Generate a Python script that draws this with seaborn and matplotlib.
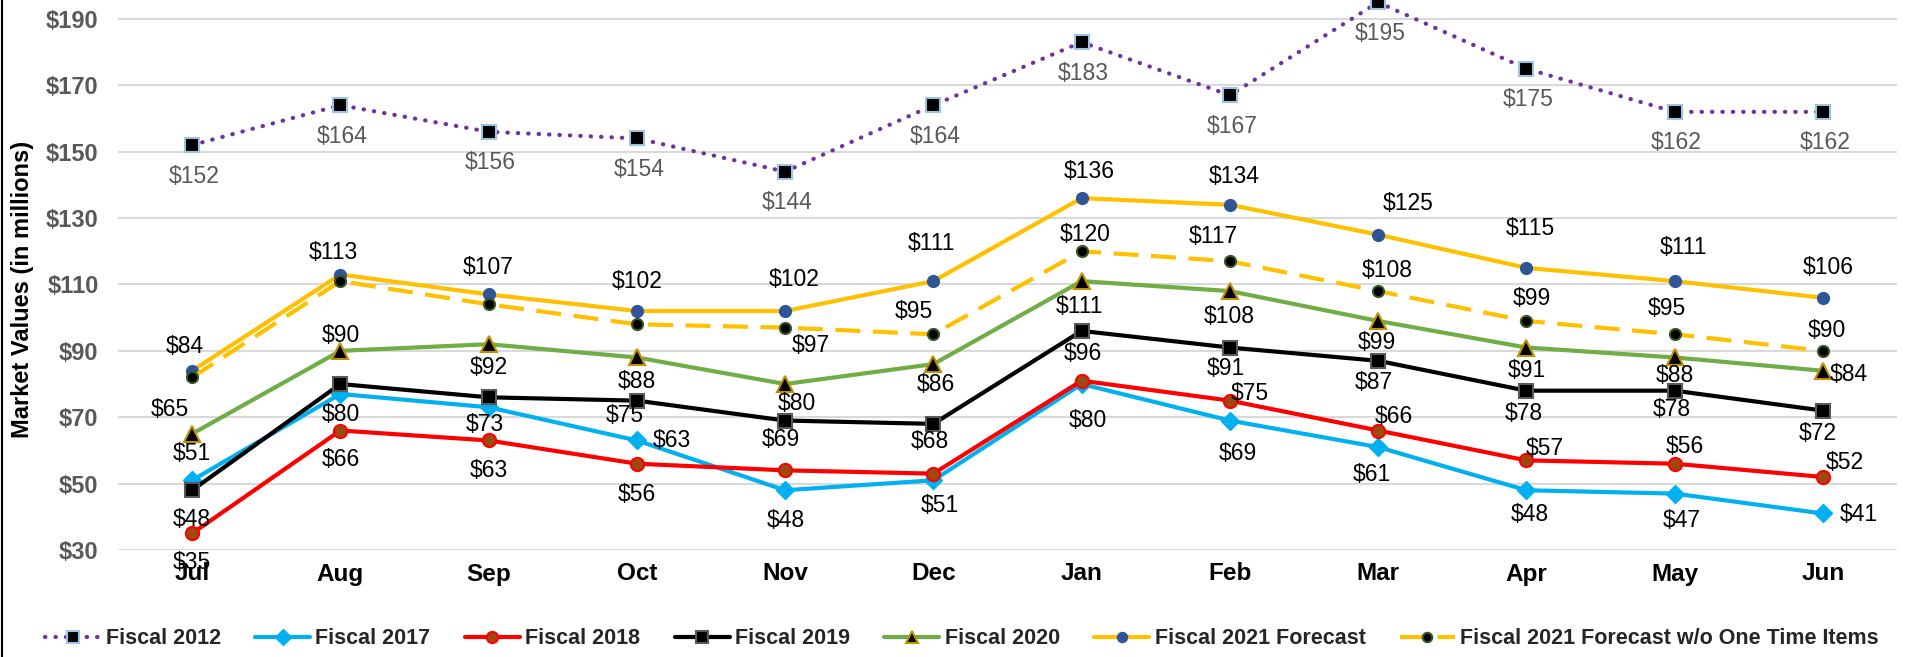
import numpy as np
import pandas as pd
import matplotlib
matplotlib.use("Agg")
import matplotlib.pyplot as plt
from matplotlib.lines import Line2D
import seaborn as sns

# ---------------- data ----------------
months = ["Jul", "Aug", "Sep", "Oct", "Nov", "Dec", "Jan", "Feb", "Mar", "Apr", "May", "Jun"]
fy2012 = [152, 164, 156, 154, 144, 164, 183, 167, 195, 175, 162, 162]
fy2017 = [51, 77, 73, 63, 48, 51, 80, 69, 61, 48, 47, 41]
fy2018 = [35, 66, 63, 56, 54, 53, 81, 75, 66, 57, 56, 52]
fy2019 = [48, 80, 76, 75, 69, 68, 96, 91, 87, 78, 78, 72]
fy2020 = [65, 90, 92, 88, 80, 86, 111, 108, 99, 91, 88, 84]
fy2021_fc = [84, 113, 107, 102, 102, 111, 136, 134, 125, 115, 111, 106]
fy2021_wo = [82, 111, 104, 98, 97, 95, 120, 117, 108, 99, 95, 90]
series_names = ["Fiscal 2012", "Fiscal 2017", "Fiscal 2018", "Fiscal 2019",
                "Fiscal 2020", "Fiscal 2021 Forecast",
                "Fiscal 2021 Forecast w/o One Time Items"]
y_ticks = [30, 50, 70, 90, 110, 130, 150, 170, 190]
y_label = "Market Values (in millions)"

# ---------------- styles ----------------
styles = {
    "Fiscal 2012": dict(color="#7030A0", ls=(0, (0.1, 2.4)), marker="s", ms=10,
                        mfc="black", mec="#9DC3E6", mew=1.5),
    "Fiscal 2017": dict(color="#00B0F0", ls="-", marker="D", ms=9.5,
                        mfc="#00B0F0", mec="#00B0F0", mew=1),
    "Fiscal 2018": dict(color="#FF0000", ls="-", marker="o", ms=9.5,
                        mfc="#9C4A0F", mec="#FF0000", mew=1.5),
    "Fiscal 2019": dict(color="black", ls="-", marker="s", ms=9.5,
                        mfc="black", mec="#595959", mew=1.5),
    "Fiscal 2020": dict(color="#70AD47", ls="-", marker="^", ms=11,
                        mfc="black", mec="#BF9000", mew=1.5),
    "Fiscal 2021 Forecast": dict(color="#FFC000", ls="-", marker="o", ms=8.5,
                                 mfc="#2F5597", mec="#2F5597", mew=1),
    "Fiscal 2021 Forecast w/o One Time Items": dict(color="#FFC000", ls=(0, (6, 3)),
                                                    marker="o", ms=8,
                                                    mfc="black", mec="#375623", mew=1.5),
}

# label offsets in pixels (dx, dy up-positive, align) ; None = no label
C, R = "c", "r"
offsets = {
    "Fiscal 2012": [(2, -31, C)] * 12,
    "Fiscal 2017": [(0, 27, C), None, (-4, -17, C), (16, 0, R), (1, -30, C), (6, -25, C),
                    (6, -36, C), (8, -33, C), (-6, -27, C), (3, -24, C), (7, -27, C), (17, -1, R)],
    "Fiscal 2018": [(0, -29, C), (0, -29, C), (0, -30, C), (0, -31, C), None, None,
                    None, (20, 7, C), (16, 14, C), (18, 12, C), (10, 17, C), (22, 14, C)],
    "Fiscal 2019": [(0, -29, C), (0, -30, C), None, (-12, -15, C), (-4, -19, C), (-4, -18, C),
                    (1, -23, C), (-4, -21, C), (-4, -22, C), (-3, -23, C), (-3, -19, C), (-5, -23, C)],
    "Fiscal 2020": [(-22, 24, C), (0, 15, C), (0, -23, C), (0, -24, C), (12, -19, C), (2, -20, C),
                    (-2, -25, C), (-1, -25, C), (-1, -22, C), (0, -23, C), (0, -18, C), (7, -4, R)],
    "Fiscal 2021 Forecast": [(-7, 24, C), (-7, 22, C), (0, 27, C), (0, 30, C), (9, 32, C), (-2, 38, C),
                             (8, 27, C), (4, 28, C), (30, 31, C), (4, 39, C), (9, 34, C), (5, 30, C)],
    "Fiscal 2021 Forecast w/o One Time Items": [None, None, None, None, (26, -18, C), (-20, 23, C),
                                                (4, 17, C), (-17, 25, C), (9, 21, C), (5, 22, C),
                                                (-8, 26, C), (4, 20, C)],
}

# ---------------- theme ----------------
sns.set_theme(style="white")
plt.rcParams["font.family"] = ["Liberation Sans", "DejaVu Sans"]

W, H, DPI = 1912, 657, 100
fig = plt.figure(figsize=(W / DPI, H / DPI), dpi=DPI)
ax = fig.add_axes([118 / W, 1 - 550 / H, (1897 - 118) / W, 550 / H])

x = np.arange(len(months))
all_values = [fy2012, fy2017, fy2018, fy2019, fy2020, fy2021_fc, fy2021_wo]

for name, vals in zip(series_names, all_values):
    st = styles[name]
    sns.lineplot(x=x, y=vals, ax=ax, color=st["color"], linestyle=st["ls"], linewidth=3,
                 marker=st["marker"], markersize=st["ms"], markerfacecolor=st["mfc"],
                 markeredgecolor=st["mec"], markeredgewidth=st["mew"],
                 dash_capstyle="round" if name == "Fiscal 2012" else "butt",
                 legend=False, clip_on=False, zorder=3)

# data labels
for name, vals in zip(series_names, all_values):
    color = "#595959" if name == "Fiscal 2012" else "black"
    for i, v in enumerate(vals):
        off = offsets[name][i]
        if off is None:
            continue
        dx, dy, al = off
        ax.annotate(f"${v}", xy=(x[i], v), xytext=(dx, dy), textcoords="offset pixels",
                    ha="left" if al == R else "center", va="center",
                    fontsize=16.5, color=color, zorder=5, annotation_clip=False)

ax.set_xlim(-0.5, len(months) - 0.5)
ax.set_ylim(30, 195.7)
ax.set_yticks(y_ticks)
ax.set_yticklabels([f"${t}" for t in y_ticks])
ax.set_xticks(x)
ax.set_xticklabels(months)
ax.set_xlabel("")
ax.set_ylabel("")
ax.grid(axis="y", color="#D9D9D9", linewidth=1.5)
ax.grid(axis="x", visible=False)
ax.set_axisbelow(True)
for s in ax.spines.values():
    s.set_visible(False)
ax.tick_params(axis="y", length=0, pad=14, labelsize=17, labelcolor="#595959")
ax.tick_params(axis="x", length=0, pad=9, labelsize=17.5, labelcolor="black")
for lab in ax.get_yticklabels() + ax.get_xticklabels():
    lab.set_fontweight("bold")

fig.text(23 / W, 1 - 289 / H, y_label, rotation=90, ha="center", va="center",
         fontsize=17, fontweight="bold", color="black")

# legend
handles = []
for name in series_names:
    st = styles[name]
    handles.append(Line2D([0], [0], color=st["color"], linestyle=st["ls"], linewidth=3,
                          marker=st["marker"], markersize=st["ms"] * 0.85,
                          markerfacecolor=st["mfc"], markeredgecolor=st["mec"],
                          markeredgewidth=st["mew"],
                          dash_capstyle="round" if name == "Fiscal 2012" else "butt"))
fig.legend(handles, series_names, loc="center", bbox_to_anchor=(962 / W, 1 - 639 / H),
           ncol=7, frameon=False, handlelength=2.55, handletextpad=0.25,
           columnspacing=1.6, prop={"size": 15.5, "weight": "bold"})

fig.add_artist(Line2D([0.0008, 0.0008], [0, 1], transform=fig.transFigure,
                      color="black", linewidth=1.5))

fig.savefig("out.png", dpi=DPI)
